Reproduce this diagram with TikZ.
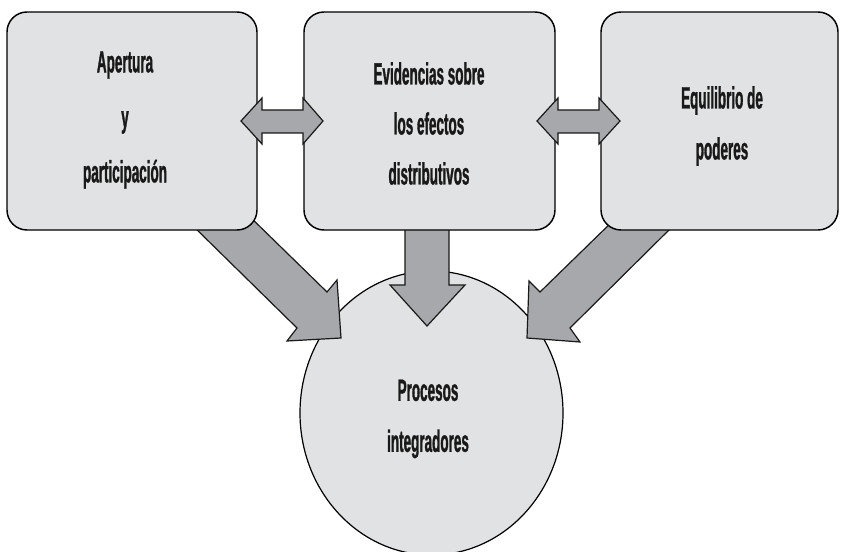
\documentclass[tikz,border=0pt]{standalone}
\usepackage{fontspec}
\usetikzlibrary{shapes.geometric}
\newfontfamily\lblfont{Liberation Sans}[FakeStretch=0.44,FakeBold=1]
\definecolor{boxfill}{RGB}{225,226,228}
\definecolor{arrowfill}{RGB}{167,168,171}
\begin{document}
\begin{tikzpicture}[x=0.75pt,y=-0.75pt,
  box/.style={draw=black,line width=1.1pt,fill=boxfill,rounded corners=15pt,inner sep=0pt,minimum height=163.5pt},
  blk/.style={draw=black!90,line width=0.9pt,fill=arrowfill,line join=miter},
  lbl/.style={inner sep=0pt,align=center,text=black!90},
]
\useasboundingbox[fill=white] (0,0) rectangle (841,552);
% circle
\node[ellipse,draw=black,line width=0.9pt,fill=boxfill,minimum width=197.25pt,minimum height=213pt,inner sep=0pt] (c) at (431.5,413) {};
% boxes positions (used by arrows drawn behind)
\coordinate (p1) at (132,121);
\coordinate (p2) at (429.5,121);
\coordinate (p3) at (719.5,121);
% down arrows (behind boxes, over circle)
\draw[blk] (405,225) -- (449,225) -- (449,285) -- (465,285) -- (427,326) -- (390,285) -- (405,285) -- cycle;
\draw[blk] (190,223) -- (297,328) -- (287,341) -- (341,338) -- (337,280) -- (327,292) -- (245,212) -- cycle;
\draw[blk] (617,217) -- (540,292) -- (529,281) -- (527,338) -- (580,342) -- (570,328) -- (675,224) -- cycle;
% boxes
\node[box,minimum width=187.5pt] (b1) at (p1) {};
\node[box,minimum width=188.25pt] (b2) at (p2) {};
\node[box,minimum width=177.75pt] (b3) at (p3) {};
% double arrows
\draw[blk] (241,121) -- (262,98) -- (262,110) -- (303,110) -- (303,98) -- (323,121) -- (303,144) -- (303,133) -- (262,133) -- (262,144) -- cycle;
\draw[blk] (537,121) -- (558,98) -- (558,110) -- (599,110) -- (599,98) -- (620,121) -- (599,144) -- (599,133) -- (558,133) -- (558,144) -- cycle;
% labels
\node[lbl,font={\lblfont\bfseries\fontsize{23}{41.25}\selectfont}] (t1) at (125,120) {Apertura\\y\\participación};
\node[lbl,font={\lblfont\bfseries\fontsize{23}{37.5}\selectfont}] (t2) at (429,123.5) {Evidencias sobre\\los efectos\\distributivos};
\node[lbl,font={\lblfont\bfseries\fontsize{23}{38.25}\selectfont}] (t3) at (722,126) {Equilibrio de\\poderes};
\node[lbl,font={\lblfont\bfseries\fontsize{23}{38.25}\selectfont}] (tc) at (428,419) {Procesos\\integradores};
\end{tikzpicture}
\end{document}
